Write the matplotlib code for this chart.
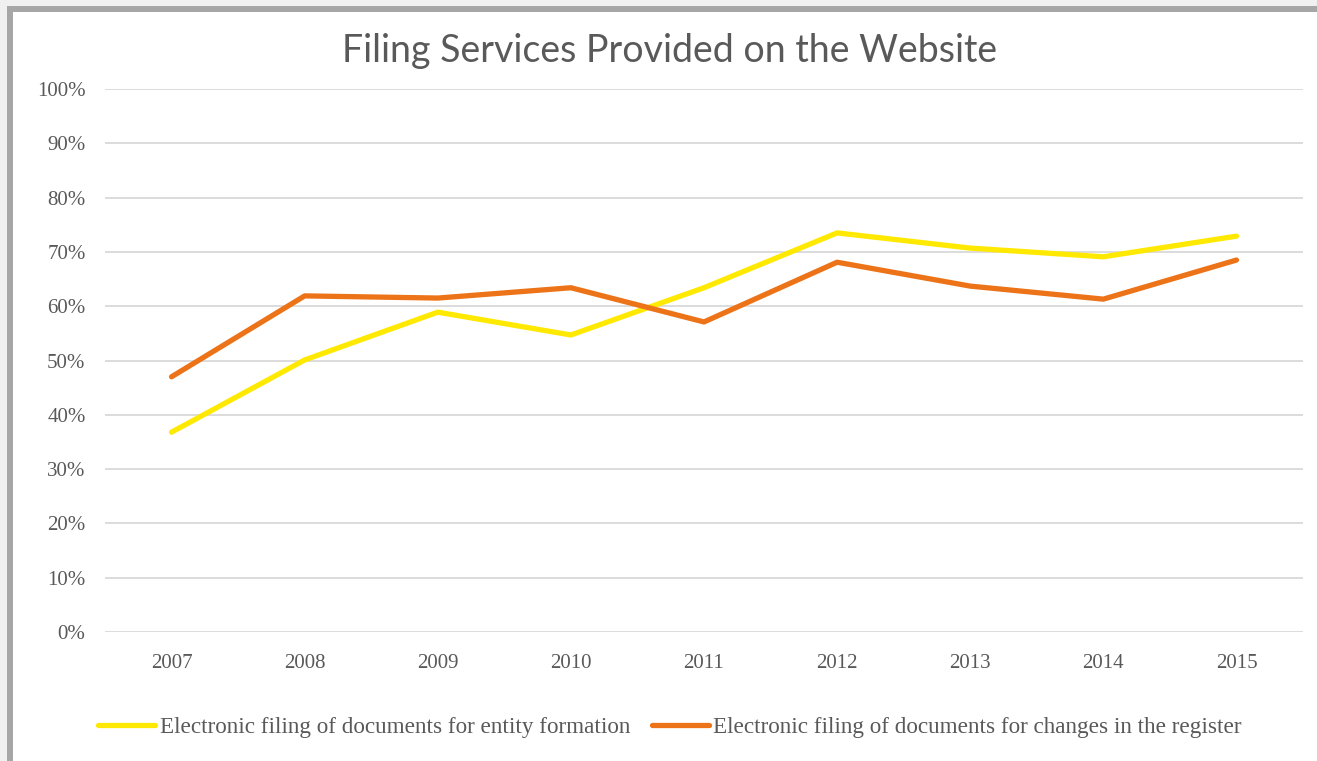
import matplotlib.pyplot as plt
from matplotlib.patches import Rectangle
from matplotlib.ticker import PercentFormatter

years = ["2007", "2008", "2009", "2010", "2011", "2012", "2013", "2014", "2015"]
entity_formation = [36.8, 50.1, 58.9, 54.7, 63.4, 73.5, 70.7, 69.1, 72.9]
register_changes = [47.0, 61.9, 61.5, 63.4, 57.1, 68.1, 63.7, 61.3, 68.5]
labels = ["Electronic filing of documents for entity formation",
          "Electronic filing of documents for changes in the register"]

W, H = 1317, 761
fig = plt.figure(figsize=(W / 100, H / 100), dpi=100, facecolor="#f0f0f0")

# chart frame: gray border along top/left, white area running off the image
fig.patches.append(Rectangle((7 / W, 0), 1, (H - 6) / H, transform=fig.transFigure,
                             facecolor="#a6a6a6", edgecolor="none", zorder=-10))
fig.patches.append(Rectangle((13 / W, 0), 1, (H - 12) / H, transform=fig.transFigure,
                             facecolor="white", edgecolor="none", zorder=-9))

ax = fig.add_axes([105 / W, (H - 632) / H, 1198 / W, 543 / H])
ax.set_facecolor("none")

x = range(len(years))
ax.plot(x, entity_formation, color="#ffe900", lw=3.8, solid_capstyle="round", label=labels[0])
ax.plot(x, register_changes, color="#ed7318", lw=3.8, solid_capstyle="round", label=labels[1])

ax.set_xlim(-0.5, len(years) - 0.5)
ax.set_ylim(0, 100)
ax.set_yticks(range(0, 101, 10))
ax.yaxis.set_major_formatter(PercentFormatter(decimals=0))
ax.set_xticks(list(x))
ax.set_xticklabels(years)
ax.grid(axis="y", color="#d9d9d9", lw=1.3)
ax.set_axisbelow(True)
for s in ax.spines.values():
    s.set_visible(False)
ax.tick_params(length=0, labelsize=15, labelcolor="#595959", pad=14)
ax.tick_params(axis="x", pad=16)
for t in ax.get_xticklabels() + ax.get_yticklabels():
    t.set_family("Liberation Serif")

fig.text(670 / W, 1 - 51 / H, "Filing Services Provided on the Website", ha="center",
         va="center", fontsize=27, color="#595959", family="Lato")

leg = fig.legend(loc="center", bbox_to_anchor=(670 / W, 1 - 727 / H), ncol=2, frameon=False,
                 prop={"family": "Liberation Serif", "size": 16.7}, handlelength=2.45,
                 handletextpad=0.2, columnspacing=0.95)
for t in leg.get_texts():
    t.set_color("#595959")

fig.savefig("out.png", dpi=100, facecolor=fig.get_facecolor())
